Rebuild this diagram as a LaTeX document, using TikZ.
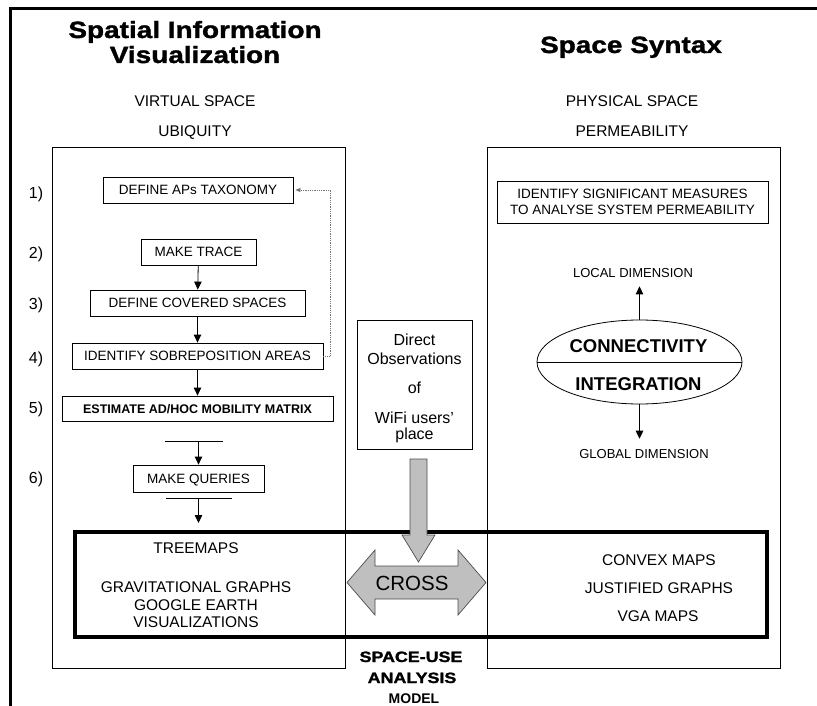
\documentclass[tikz,border=0pt]{standalone}
\usepackage{fontspec}
\setmainfont{Liberation Sans}
\newfontfamily\heavy[FakeStretch=1.19,FakeBold=1.5]{Liberation Sans}
\usetikzlibrary{arrows.meta,shapes.geometric}
\newcommand\myfs[1]{\fontsize{#1}{#1}\selectfont}
\begin{document}
\begin{tikzpicture}[x=1pt,y=-1pt,
  box/.style={draw, line width=0.8pt, inner sep=0pt, font=\myfs{13.5}, text height=9.7pt, text depth=0pt},
  twobox/.style={draw, line width=0.8pt, inner sep=0pt, align=center, font=\fontsize{13.5}{16}\selectfont},
  txt/.style={inner sep=0pt, anchor=base, font=\myfs{15.5}},
  small/.style={inner sep=0pt, anchor=base, font=\myfs{13}},
  num/.style={inner sep=0pt, anchor=base, font=\myfs{16}},
  ttl/.style={inner sep=0pt, anchor=base, font=\heavy\bfseries\myfs{23.5}},
  arr/.style={-{Triangle[length=8pt,width=7.5pt]}, line width=0.8pt},
  dotconn/.style={densely dotted, black!55, line width=0.8pt, -{Triangle[length=5pt,width=4pt]}},
  grayarrow/.style={fill=black!25, draw=black!70, line width=0.7pt},
  thickbox/.style={draw, line width=3.5pt}
]
\useasboundingbox (0,0) rectangle (817,706);
% outer frame
\coordinate (frTR) at (817,8.5);
\coordinate (frTL) at (10,8.5);
\coordinate (frBL) at (10,706);
\draw[line width=3pt] (frTR) -- (frTL) -- (frBL);

% titles
\node[ttl] (t1a) at (195,38) {Spatial Information};
\node[ttl] (t1b) at (195,63) {Visualization};
\node[ttl] (t2) at (631,53) {Space Syntax};
\node[txt] (vs) at (195,107) {VIRTUAL SPACE};
\node[txt] (ub) at (195,137) {UBIQUITY};
\node[txt] (ps) at (632,107) {PHYSICAL SPACE};
\node[txt] (pm) at (632,137) {PERMEABILITY};

% column boxes
\node[draw, line width=0.8pt, minimum width=293, minimum height=521, inner sep=0pt] (lcol) at (198.5,407.5) {};
\node[draw, line width=0.8pt, minimum width=293, minimum height=521, inner sep=0pt] (rcol) at (633.5,407.5) {};

% step numbers
\node[num] (n1) at (36,199) {1)};
\node[num] (n2) at (36,258) {2)};
\node[num] (n3) at (36,309) {3)};
\node[num] (n4) at (36,363) {4)};
\node[num] (n5) at (36,413) {5)};
\node[num] (n6) at (36,483) {6)};

% left steps
\node[box, minimum width=190, minimum height=26] (aps) at (198,190) {DEFINE APs TAXONOMY};
\node[box, minimum width=115, minimum height=26] (trace) at (198.5,252) {MAKE TRACE};
\node[box, minimum width=215, minimum height=26] (cov) at (197.5,303) {DEFINE COVERED SPACES};
\node[box, minimum width=251, minimum height=26] (sob) at (197.5,356) {IDENTIFY SOBREPOSITION AREAS};
\node[box, minimum width=271, minimum height=25, font=\bfseries\myfs{12.5}, text height=9pt] (est) at (197.5,408.5) {ESTIMATE AD/HOC MOBILITY MATRIX};
\node[box, minimum width=131, minimum height=27] (qry) at (198.5,478.5) {MAKE QUERIES};

\draw[arr] (trace) -- (cov);
\draw[arr] (cov) -- (sob);
\draw[arr] (sob) -- (est);
\coordinate (bar1l) at (165,441);
\coordinate (bar1r) at (223,441);
\coordinate (bar1m) at (198.5,441);
\draw[line width=0.8pt] (bar1l) -- (bar1r);
\draw[arr] (bar1m) -- (qry);
\coordinate (bar2l) at (166,498);
\coordinate (bar2r) at (232,498);
\coordinate (bar2m) at (198.5,498);
\coordinate (bar2e) at (198.5,523);
\draw[line width=0.8pt] (bar2l) -- (bar2r);
\draw[arr] (bar2m) -- (bar2e);
\draw[dotconn, shorten >=2pt] (sob.east) -- ++(7,0) |- (aps.east);

% middle observation box
\node[draw, line width=0.8pt, minimum width=115, minimum height=129, inner sep=0pt] (obs) at (414.5,384.5) {};
\node[txt, font=\myfs{16}] (o1) at (414.5,345) {Direct};
\node[txt, font=\myfs{16}] (o2) at (414.5,364) {Observations};
\node[txt, font=\myfs{16}] (o3) at (414.5,393) {of};
\node[txt, font=\myfs{16}] (o4) at (414.5,423) {WiFi users'};
\node[txt, font=\myfs{16}] (o5) at (414.5,439) {place};

% right column content
\node[twobox, minimum width=271, minimum height=42] (ism) at (632.5,202) {IDENTIFY SIGNIFICANT MEASURES\\TO ANALYSE SYSTEM PERMEABILITY};
\node[small] (loc) at (633,277) {LOCAL DIMENSION};
\node[draw, ellipse, line width=0.8pt, minimum width=205, minimum height=84, inner sep=0pt] (ell) at (639.5,362) {};
\draw[line width=0.8pt] (ell.west) -- (ell.east);
\node[inner sep=0pt, anchor=base, font=\bfseries\myfs{18.5}] (con) at (638.5,352) {CONNECTIVITY};
\node[inner sep=0pt, anchor=base, font=\bfseries\myfs{18.5}] (int) at (638.5,390) {INTEGRATION};
\node[small] (glob) at (644,458) {GLOBAL DIMENSION};
\draw[arr, shorten >=9pt] (ell.north) -- (ell.north |- loc.south);
\draw[arr, shorten >=10pt] (ell.south) -- (ell.south |- glob.north);

% space-use model box
\node[thickbox, minimum width=692, minimum height=105, inner sep=0pt] (model) at (421,584.5) {};
\node[txt] (tm) at (196,553) {TREEMAPS};
\node[txt] (gg) at (196,592) {GRAVITATIONAL GRAPHS};
\node[txt] (ge) at (196,610.5) {GOOGLE EARTH};
\node[txt] (gv) at (196,627) {VISUALIZATIONS};
\node[txt] (cm) at (659,565) {CONVEX MAPS};
\node[txt] (jg) at (659,593) {JUSTIFIED GRAPHS};
\node[txt] (vg) at (658,621) {VGA MAPS};

% gray arrows
\draw[grayarrow] (410,459) -- (427,459) -- (427,535) -- (435,535) -- (418.5,562) -- (402,535) -- (410,535) -- cycle;
\draw[grayarrow] (347,582.5) -- (375,550) -- (375,566) -- (458,566) -- (458,550) -- (486,582.5) -- (458,615) -- (458,599) -- (375,599) -- (375,615) -- cycle;
\node[inner sep=0pt, anchor=base, font=\myfs{20.5}] (cross) at (412,590.5) {CROSS};

% bottom label
\node[inner sep=0pt, anchor=base, font=\heavy\bfseries\myfs{15}] (su1) at (411,662) {SPACE-USE};
\node[inner sep=0pt, anchor=base, font=\heavy\bfseries\myfs{15}] (su2) at (412,683) {ANALYSIS};
\node[inner sep=0pt, anchor=base, font=\bfseries\myfs{14}] (su3) at (414,703) {MODEL};
\end{tikzpicture}
\end{document}
